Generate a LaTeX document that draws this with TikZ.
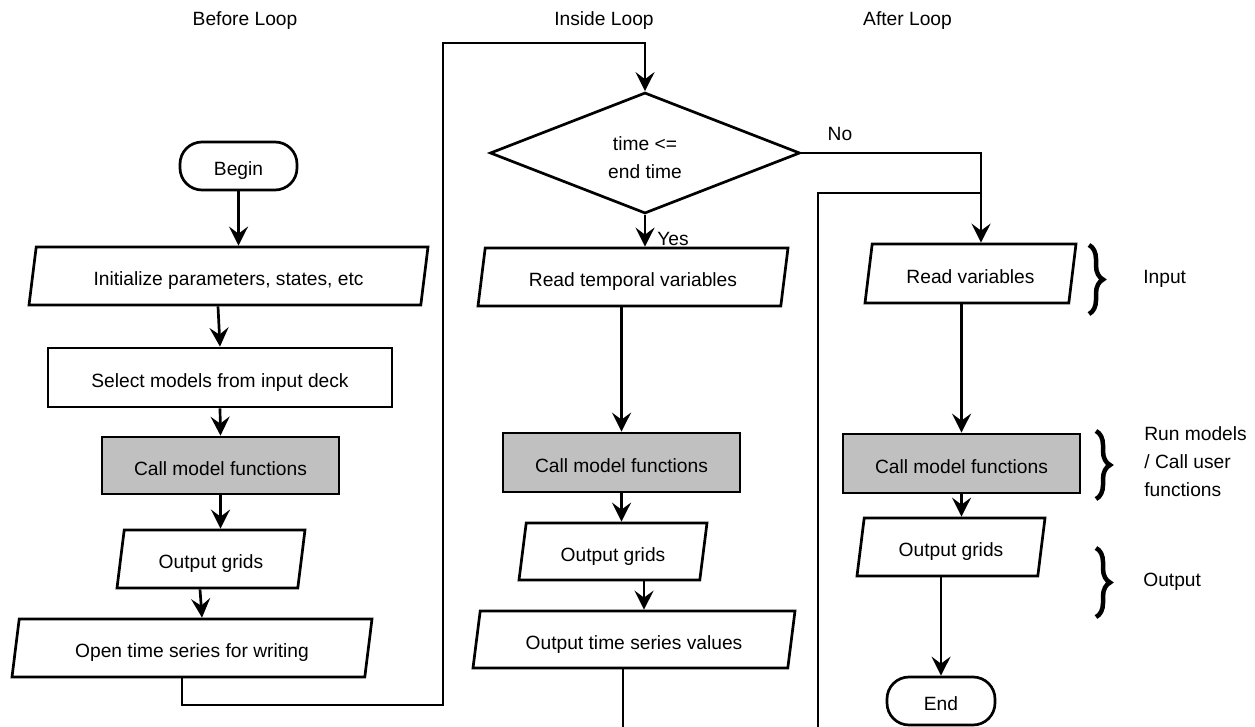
\documentclass[tikz,border=0pt]{standalone}
\usepackage{fontspec}
\setmainfont{Liberation Sans}
\usetikzlibrary{shapes.geometric,arrows.meta,decorations.pathreplacing,calc}
\definecolor{boxgray}{HTML}{C0C0C0}
\begin{document}
\begin{tikzpicture}[x=1pt,y=-1pt,line width=2.7pt,
  every node/.style={font=\fontsize{19.2}{28}\selectfont,inner sep=0pt},
  boxtext/.style={text height=19.8pt,text depth=0pt},
  term/.style={draw,rectangle,rounded corners=22pt,boxtext},
  proc/.style={draw,rectangle,minimum height=58pt,boxtext},
  callbox/.style={proc,fill=boxgray},
  io/.style={draw,trapezium,trapezium left angle=70,trapezium right angle=110,
    trapezium stretches body,minimum height=58pt,boxtext},
  decide/.style={draw,diamond,aspect=2.5,align=center,text height=51pt,text depth=0pt},
  conn/.style={-{Stealth[length=19pt,width=19pt,inset=7pt]}},
  curly/.style={line width=4.5pt,decorate,decoration={brace,amplitude=14pt}},
  lbl/.style={anchor=west,align=left}]
\useasboundingbox (0,0) rectangle (1255,727);

% headers
\node (hBefore) at (245,21) {Before Loop};
\node (hInside) at (604,21) {Inside Loop};
\node (hAfter) at (907.5,21) {After Loop};

% before loop
\node[term,minimum width=117pt,minimum height=48pt] (begin) at (238.5,166) {Begin};
\node[io,minimum width=399pt] (init) at (228.5,276) {Initialize parameters, states, etc};
\node[proc,minimum width=344pt,minimum height=59pt] (select) at (220,377.5) {Select models from input deck};
\node[callbox,minimum width=237pt,minimum height=57pt] (cm1) at (220.5,465.5) {Call model functions};
\node[io,minimum width=188pt] (og1) at (211,559) {Output grids};
\node[io,minimum width=360pt] (open) at (192,648) {Open time series for writing};

% inside loop
\node[decide,minimum width=310pt,minimum height=121pt] (dec) at (645,153) {time <=\\end time};
\node[io,minimum width=310pt] (rt) at (633,277) {Read temporal variables};
\node[callbox,minimum width=237pt,minimum height=59pt] (cm2) at (621.5,462.5) {Call model functions};
\node[io,minimum width=188pt,minimum height=57pt] (og2) at (613,551.5) {Output grids};
\node[io,minimum width=322pt,minimum height=57pt] (ots) at (634,639.5) {Output time series values};

% after loop
\node[io,minimum width=211pt,minimum height=59pt] (rv) at (970.5,273.5) {Read variables};
\node[callbox,minimum width=237pt,minimum height=59pt] (cm3) at (961.5,463.5) {Call model functions};
\node[io,minimum width=188pt] (og3) at (951,547) {Output grids};
\node[term,minimum width=108pt,minimum height=48pt] (end) at (941,701) {End};

% labels
\node[anchor=west] (yes) at (656,239) {Yes};
\node (no) at (840,134) {No};
\node[lbl] (lin) at (1142,279) {Input};
\node[lbl] (lrun) at (1143,462) {Run models\\/ Call user\\functions};
\node[lbl] (lout) at (1142,582) {Output};

% braces
\draw[curly] (1089,245) -- (1089,314);
\draw[curly] (1096,431) -- (1096,499);
\draw[curly] (1096,548) -- (1096,617);

% helper coordinates
\coordinate (lpA) at (443,705);
\coordinate (lpB) at (443,43);
\coordinate (rtB) at (818,745);
\coordinate (rtT) at (818,193);
\coordinate (rvin) at ([xshift=10.5pt]rv.north);
\coordinate (otsOut) at ([xshift=-11pt]ots.south);

% connectors: before loop
\draw[conn] (begin.south) -- (begin.south |- init.north);
\draw[conn] ([xshift=-2pt]select.north |- init.south) -- (select.north);
\draw[conn] (select.south) -- (cm1.north);
\draw[conn] (cm1.south) -- (cm1.south |- og1.north);
\draw[conn] ([xshift=-11pt]og1.south) -- ([xshift=10pt]open.north);
\draw[conn] ([xshift=-10pt]open.south) |- (lpA) -- (lpB) -| (dec.north);

% connectors: inside loop
\draw[conn] (dec.south) -- (dec.south |- rt.north);
\draw[conn] (rt.south -| cm2.north) -- (cm2.north);
\draw[conn] (cm2.south) -- (cm2.south |- og2.north);
\draw[conn] ([xshift=10pt]ots.north |- og2.south) -- ([xshift=10pt]ots.north);
\draw (otsOut) -- (otsOut |- rtB);
\draw (rtB) -- (rtT) -- (rtT -| rvin);

% connectors: after loop
\draw[conn] (dec.east) -| (rvin);
\draw[conn] (rv.south -| cm3.north) -- (cm3.north);
\draw[conn] (cm3.south) -- (cm3.south |- og3.north);
\draw[conn] (og3.south -| end.north) -- (end.north);
\end{tikzpicture}
\end{document}
